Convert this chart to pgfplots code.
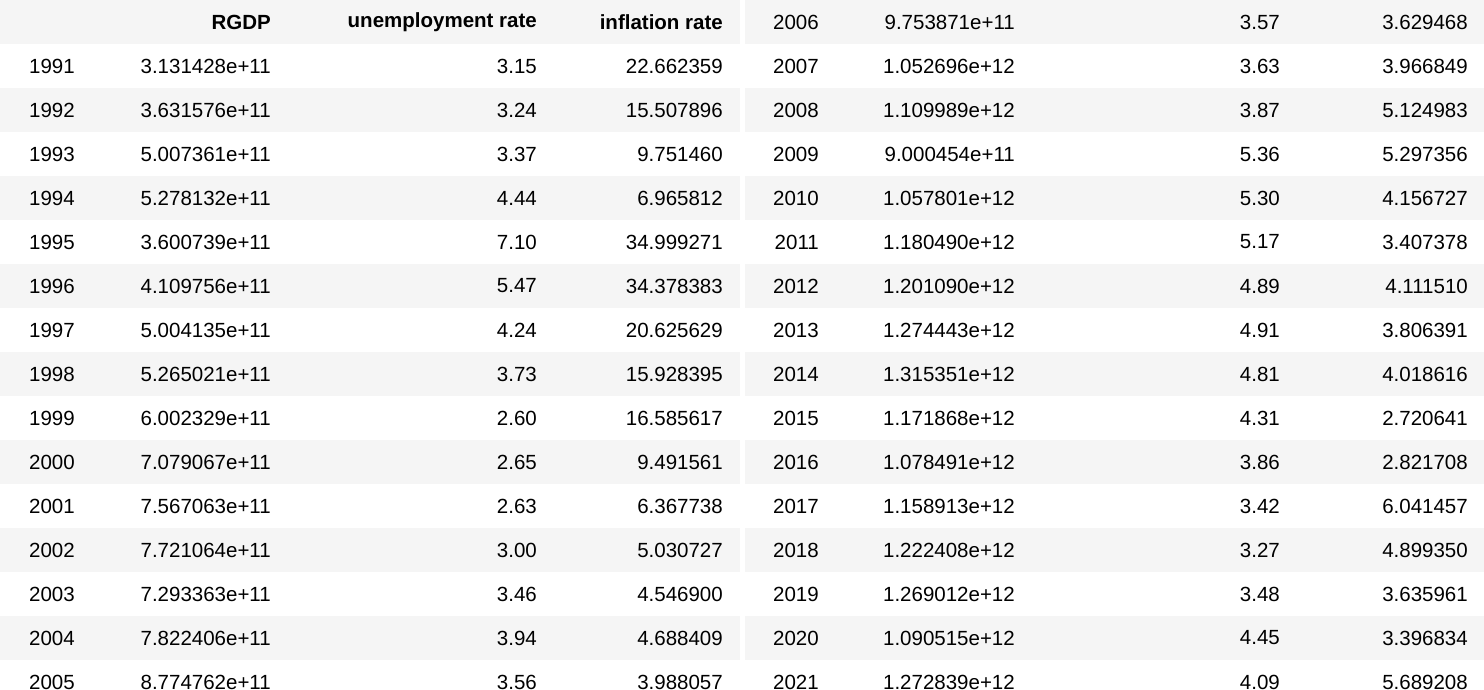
\documentclass[border=0pt]{standalone}
\usepackage{pgfplots}
\usepackage{pgfplotstable}
\pgfplotsset{compat=1.18}
\usepackage{fontspec}
\setmainfont{Liberation Sans}
\definecolor{stripe}{HTML}{F5F5F5}
\pgfplotstableread{
year rgdp un inf
1991 3.131428e+11 3.15 22.662359
1992 3.631576e+11 3.24 15.507896
1993 5.007361e+11 3.37 9.751460
1994 5.278132e+11 4.44 6.965812
1995 3.600739e+11 7.10 34.999271
1996 4.109756e+11 5.47 34.378383
1997 5.004135e+11 4.24 20.625629
1998 5.265021e+11 3.73 15.928395
1999 6.002329e+11 2.60 16.585617
2000 7.079067e+11 2.65 9.491561
2001 7.567063e+11 2.63 6.367738
2002 7.721064e+11 3.00 5.030727
2003 7.293363e+11 3.46 4.546900
2004 7.822406e+11 3.94 4.688409
2005 8.774762e+11 3.56 3.988057
}\lefttab
\pgfplotstableread{
year rgdp un inf
2006 9.753871e+11 3.57 3.629468
2007 1.052696e+12 3.63 3.966849
2008 1.109989e+12 3.87 5.124983
2009 9.000454e+11 5.36 5.297356
2010 1.057801e+12 5.30 4.156727
2011 1.180490e+12 5.17 3.407378
2012 1.201090e+12 4.89 4.111510
2013 1.274443e+12 4.91 3.806391
2014 1.315351e+12 4.81 4.018616
2015 1.171868e+12 4.31 2.720641
2016 1.078491e+12 3.86 2.821708
2017 1.158913e+12 3.42 6.041457
2018 1.222408e+12 3.27 4.899350
2019 1.269012e+12 3.48 3.635961
2020 1.090515e+12 4.45 3.396834
2021 1.272839e+12 4.09 5.689208
}\righttab
\begin{document}
\begin{tikzpicture}
\begin{axis}[width=1484pt,height=710pt,scale only axis,xmin=0,xmax=1484,ymin=0,ymax=710,
 y dir=reverse, axis lines=none, clip=false,
 nodes near coords, point meta=explicit symbolic,
 every node near coord/.style={anchor=east,inner sep=0pt,font=\fontsize{20.5}{24}\selectfont,text=black},
 ]
\fill[stripe] (axis cs:0,6) rectangle (axis cs:740,50);
\pgfplotsinvokeforeach{2,4,6,8,10,12,14}{
 \fill[stripe] (axis cs:0,{6+44*#1}) rectangle (axis cs:740,{50+44*#1});
}
\pgfplotsinvokeforeach{0,2,4,6,8,10,12,14}{
 \fill[stripe] (axis cs:745,{6+44*#1}) rectangle (axis cs:1484,{50+44*#1});
}
\node[anchor=east,inner sep=0pt,font=\fontsize{20.5}{24}\selectfont\bfseries] at (axis cs:271,28) {RGDP};
\node[anchor=east,inner sep=0pt,font=\fontsize{20.5}{24}\selectfont\bfseries] at (axis cs:537,28) {unemployment rate};
\node[anchor=east,inner sep=0pt,font=\fontsize{20.5}{24}\selectfont\bfseries] at (axis cs:723,28) {inflation rate};
\addplot[draw=none,mark=none] table[x expr=75,y expr=72+44*\coordindex,meta=year]{\lefttab};
\addplot[draw=none,mark=none] table[x expr=271,y expr=72+44*\coordindex,meta=rgdp]{\lefttab};
\addplot[draw=none,mark=none] table[x expr=537,y expr=72+44*\coordindex,meta=un]{\lefttab};
\addplot[draw=none,mark=none] table[x expr=723,y expr=72+44*\coordindex,meta=inf]{\lefttab};
\addplot[draw=none,mark=none] table[x expr=819,y expr=28+44*\coordindex,meta=year]{\righttab};
\addplot[draw=none,mark=none] table[x expr=1015,y expr=28+44*\coordindex,meta=rgdp]{\righttab};
\addplot[draw=none,mark=none] table[x expr=1280,y expr=28+44*\coordindex,meta=un]{\righttab};
\addplot[draw=none,mark=none] table[x expr=1468,y expr=28+44*\coordindex,meta=inf]{\righttab};
\end{axis}
\end{tikzpicture}
\end{document}
